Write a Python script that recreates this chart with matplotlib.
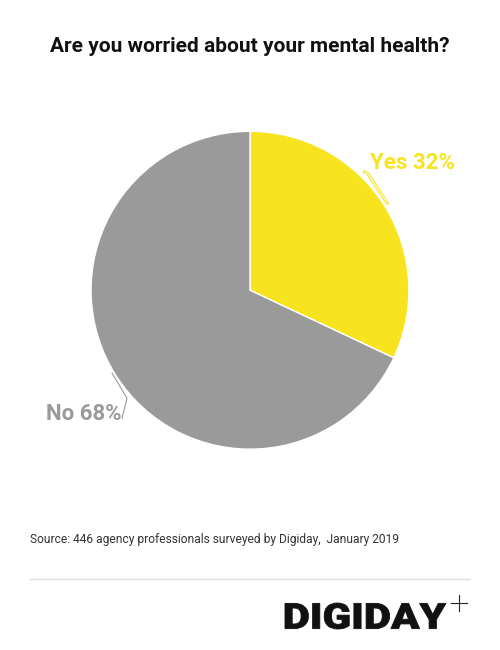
import matplotlib.pyplot as plt
import matplotlib.patheffects as pe
from matplotlib.textpath import TextPath
from matplotlib.patches import PathPatch
from matplotlib.font_manager import FontProperties
from matplotlib.transforms import Affine2D

answers = ["Yes", "No"]
shares = [32, 68]
colors = ["#f7e31e", "#9a9a9a"]

plt.rcParams['font.family'] = ['Roboto', 'DejaVu Sans']

fig = plt.figure(figsize=(5, 6.5), dpi=100)
fig.patch.set_facecolor("white")

# pie placed so radius 1 ~ 159 px, centre at (250, 290) px
ax = fig.add_axes([0.182, 0.309, 0.636, 0.489])
ax.pie(shares, colors=colors, startangle=90, counterclock=False,
       wedgeprops=dict(edgecolor="white", linewidth=1))
ax.set_xlim(-1, 1)
ax.set_ylim(-1, 1)
ax.set_aspect("equal")
ax.axis("off")

# labels with leader lines
ax.plot([0.72, 0.74, 0.862], [0.745, 0.735, 0.55], color="white", lw=0.7,
        path_effects=[pe.Stroke(linewidth=2.2, foreground=colors[0]), pe.Normal()],
        clip_on=False)
ax.text(0.755, 0.80, f"{answers[0]} {shares[0]}%", color=colors[0], fontsize=16,
        fontweight="bold", ha="left", va="center")
ax.plot([-0.868, -0.774, -0.805], [-0.522, -0.679, -0.805], color="#9a9a9a", lw=0.8,
        clip_on=False)
ax.text(-0.81, -0.776, f"{answers[1]} {shares[1]}%", color=colors[1], fontsize=16,
        fontweight="bold", ha="right", va="center")

fig.text(0.5, 1 - 47 / 650, "Are you worried about your mental health?",
         ha="center", va="center", fontsize=15, fontweight="bold", color="#111111")
fig.text(30 / 500, 1 - 540 / 650,
         "Source: 446 agency professionals surveyed by Digiday,  January 2019",
         ha="left", va="center", fontsize=8.65, color="#333333")

fig.add_artist(plt.Line2D([30 / 500, 470 / 500], [1 - 579 / 650] * 2,
                          color="#dddddd", lw=1))

# logo: wide heavy wordmark, drawn as a stretched text path in pixel coords
logo = TextPath((0, 0), "DIGIDAY", size=28,
                prop=FontProperties(family="Roboto", weight="black"))
ext = logo.get_extents()
sx = 161 / ext.width
sy = 26 / ext.height
tr = Affine2D().translate(-ext.x0, -ext.y0).scale(sx, sy).translate(285, 650 - 629)
fig.add_artist(PathPatch(tr.transform_path(logo), facecolor="#111111",
                         edgecolor="#111111", lw=0.6, transform=None))
# thin plus sign
fig.add_artist(plt.Line2D([451 / 500, 467 / 500], [1 - 603 / 650] * 2,
                          color="#222222", lw=0.8))
fig.add_artist(plt.Line2D([459 / 500] * 2, [1 - 595 / 650, 1 - 611 / 650],
                          color="#222222", lw=0.8))

fig.savefig("out.png", dpi=100, facecolor="white")
